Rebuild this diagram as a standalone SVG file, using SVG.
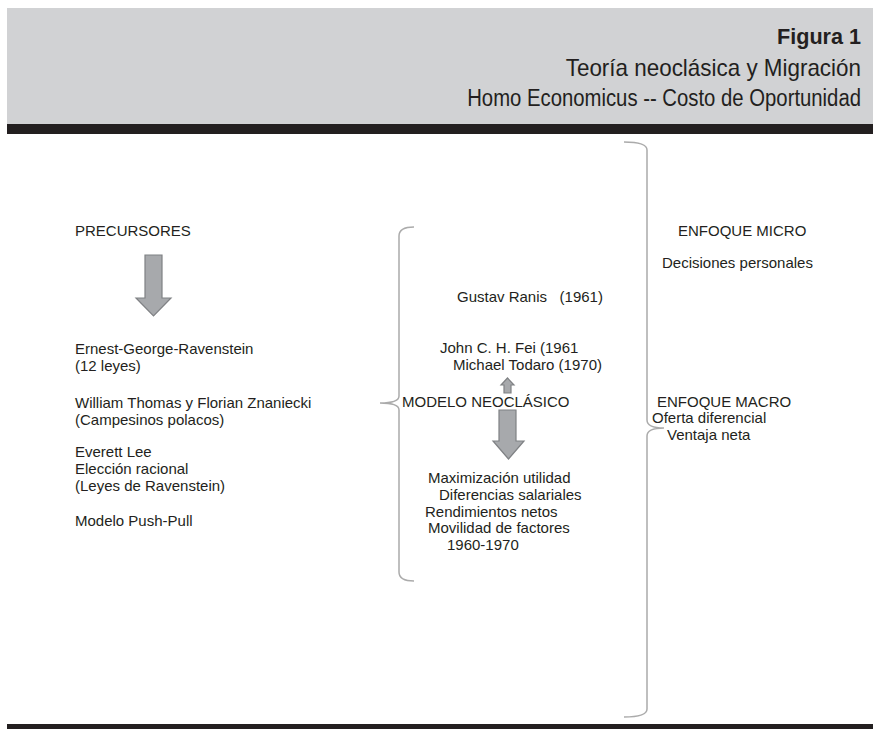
<svg xmlns="http://www.w3.org/2000/svg" width="873" height="729" viewBox="0 0 873 729">
<style>
.t{font-family:"Liberation Sans",Arial,sans-serif;font-size:15px;fill:#231f20}
.h{font-family:"Liberation Sans",Arial,sans-serif;fill:#231f20}
.arrow{fill:#a7a9ac;stroke:#7f8184;stroke-width:1.2;stroke-linejoin:miter}
.brace{fill:none;stroke:#ababab;stroke-width:1.5}
</style>
<rect x="0" y="0" width="873" height="729" fill="#ffffff"/>
<g id="header">
<rect x="7" y="8" width="866" height="116" fill="#d1d2d4"/>
<rect x="7" y="124" width="866" height="10" fill="#231f20"/>
<text class="h" x="861" y="44" text-anchor="end" font-size="21.6" font-weight="bold">Figura 1</text>
<text class="h" transform="translate(861,76) scale(0.975,1)" x="0" y="0" text-anchor="end" font-size="23">Teoría neoclásica y Migración</text>
<text class="h" transform="translate(861,106) scale(0.883,1)" x="0" y="0" text-anchor="end" font-size="23">Homo Economicus -- Costo de Oportunidad</text>
</g>
<rect id="footer" x="7" y="724" width="866" height="5" fill="#231f20"/>
<g id="connectors">
<path class="brace" d="M624,142 Q647,142 647,150 L647,420 Q647,428 664,428 Q647,428 647,436 L647,709 Q647,717 624,717"/>
<path class="brace" d="M414,227 Q399,227 399,236 L399,396 Q399,403 380,403 Q399,403 399,410 L399,572 Q399,581 414,581"/>
<polygon class="arrow" points="145,255 162,255 162,298 171,298 153.5,316 136,298 145,298"/>
<polygon class="arrow" points="499,410 516,410 516,441 524,441 508.5,459 493,441 499,441"/>
<polygon class="arrow" points="507.5,378 514,385 511,385 511,393 504,393 504,385 501,385"/>
</g>
<g id="precursores">
<text class="t" x="75" y="236">PRECURSORES</text>
</g>
<g id="ravenstein">
<text class="t" x="75" y="354">Ernest-George-Ravenstein</text>
<text class="t" x="75" y="371">(12 leyes)</text>
</g>
<g id="thomas">
<text class="t" x="75" y="408">William Thomas y Florian Znaniecki</text>
<text class="t" x="75" y="425">(Campesinos polacos)</text>
</g>
<g id="lee">
<text class="t" x="75" y="457">Everett Lee</text>
<text class="t" x="75" y="474">Elección racional</text>
<text class="t" x="75" y="491">(Leyes de Ravenstein)</text>
</g>
<g id="pushpull">
<text class="t" x="75" y="526">Modelo Push-Pull</text>
</g>
<g id="ranis">
<text class="t" x="457" y="302" xml:space="preserve">Gustav Ranis   (1961)</text>
</g>
<g id="fei">
<text class="t" x="440" y="353">John C. H. Fei (1961</text>
<text class="t" x="453" y="370">Michael Todaro (1970)</text>
</g>
<g id="modelo">
<text class="t" x="402" y="407">MODELO NEOCLÁSICO</text>
</g>
<g id="maximizacion">
<text class="t" x="428" y="483">Maximización utilidad</text>
<text class="t" x="439" y="500">Diferencias salariales</text>
<text class="t" x="425" y="517">Rendimientos netos</text>
<text class="t" x="428" y="533">Movilidad de factores</text>
<text class="t" x="447" y="550">1960-1970</text>
</g>
<g id="micro">
<text class="t" x="678" y="236">ENFOQUE MICRO</text>
<text class="t" x="662" y="268">Decisiones personales</text>
</g>
<g id="macro">
<text class="t" x="657" y="407">ENFOQUE MACRO</text>
<text class="t" x="652" y="423">Oferta diferencial</text>
<text class="t" x="667" y="440">Ventaja neta</text>
</g>
</svg>
